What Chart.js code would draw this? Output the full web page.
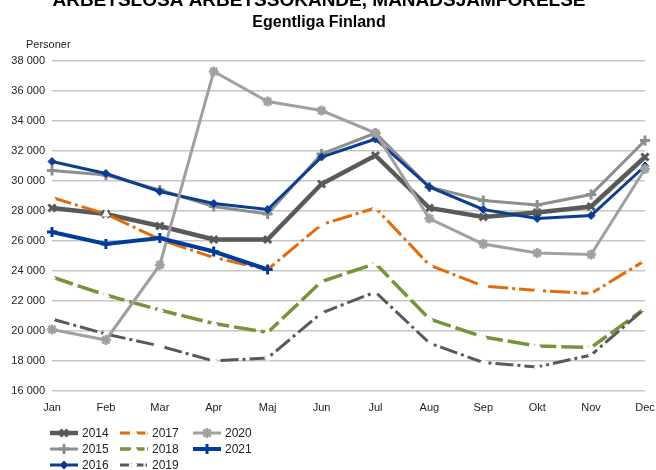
<!DOCTYPE html>
<html>
<head>
<meta charset="utf-8">
<script src="https://cdn.jsdelivr.net/npm/chart.js@4/dist/chart.umd.min.js"></script>
<style>
  body { margin: 0; background: #fff; }
  canvas { display: block; }
</style>
</head>
<body>
<canvas id="chart" width="656" height="470"></canvas>
<script>
const months = ["Jan", "Feb", "Mar", "Apr", "Maj", "Jun", "Jul", "Aug", "Sep", "Okt", "Nov", "Dec"];

const y2014 = [28200, 27800, 27000, 26100, 26100, 29800, 31700, 28200, 27600, 27900, 28300, 31600];
const y2015 = [30700, 30400, 29400, 28300, 27800, 31800, 33200, 29600, 28700, 28400, 29100, 32700];
const y2016 = [31300, 30500, 29300, 28500, 28100, 31600, 32800, 29600, 28100, 27500, 27700, 31000];
const y2017 = [28900, 27800, 26100, 24900, 24100, 27100, 28200, 24400, 23000, 22700, 22500, 24700];
const y2018 = [23600, 22400, 21400, 20500, 19900, 23300, 24500, 20800, 19600, 19000, 18900, 21500];
const y2019 = [20800, 19800, 19000, 18000, 18200, 21200, 22600, 19200, 17900, 17600, 18400, 21500];
const y2020 = [20100, 19400, 24400, 37300, 35300, 34700, 33200, 27500, 25800, 25200, 25100, 30800];
const y2021 = [26600, 25800, 26200, 25300, 24100];

const yTicks = [16000, 18000, 20000, 22000, 24000, 26000, 28000, 30000, 32000, 34000, 36000, 38000];

const mainTitle = "ARBETSLÖSA ARBETSSÖKANDE, MÅNADSJÄMFÖRELSE";
const subTitle = "Egentliga Finland";
const unitLabel = "Personer";

// legend layout: column-major like the original
const legendOrder = [["2014", "2015", "2016"], ["2017", "2018", "2019"], ["2020", "2021"]];

const FONT = "'Liberation Sans', Arial, sans-serif";

function series(label, data, color, width, style, radius, opts) {
  return Object.assign({
    label: label,
    data: data,
    borderColor: color,
    backgroundColor: color,
    borderWidth: width,
    pointStyle: style,
    pointRadius: radius,
    pointBorderColor: color,
    pointBackgroundColor: color,
    pointBorderWidth: 3,
    tension: 0,
    fill: false
  }, opts || {});
}

const datasets = [
  series("2014", y2014, "#595959", 4.5, "crossRot", 5, { order: 7 }),
  series("2015", y2015, "#8e8e8e", 3, "cross", 5, { order: 6 }),
  series("2016", y2016, "#0b3d91", 3, "rectRot", 4, { order: 5, pointBorderWidth: 1 }),
  series("2017", y2017, "#e26b0a", 3, "triangle", 4,
    { order: 4, borderDash: [20, 4, 3, 4], pointBackgroundColor: "#fff", pointBorderColor: "#fff", pointBorderWidth: 1 }),
  series("2018", y2018, "#77933c", 3.5, "triangle", 4,
    { order: 3, borderDash: [22, 5], pointBackgroundColor: "#fff", pointBorderColor: "#fff", pointBorderWidth: 1 }),
  series("2019", y2019, "#595959", 3, "rectRot", 3,
    { order: 2, borderDash: [18, 4, 3, 4], pointBackgroundColor: "#fff", pointBorderColor: "#fff", pointBorderWidth: 1 }),
  series("2020", y2020, "#a0a0a0", 3, "star", 5, { order: 1, pointBorderWidth: 2.5 }),
  series("2021", y2021, "#003c99", 4, "cross", 5, { order: 0 })
];

// titles, unit label and legend drawn by hand
const decorations = {
  id: "decorations",
  afterDraw(chart) {
    const ctx = chart.ctx;
    ctx.save();
    ctx.fillStyle = "#000";
    ctx.textAlign = "center";
    ctx.textBaseline = "alphabetic";
    ctx.font = "bold 19px " + FONT;
    ctx.fillText(mainTitle, 319, 6);
    ctx.font = "bold 16px " + FONT;
    ctx.fillText(subTitle, 319, 27);
    ctx.textAlign = "left";
    ctx.font = "11px " + FONT;
    ctx.fillStyle = "#222";
    ctx.fillText(unitLabel, 26, 48);

    const colX = [50, 120, 193];
    const rowY = [433, 449, 465];
    legendOrder.forEach((col, ci) => {
      col.forEach((label, ri) => {
        const ds = datasets.find(d => d.label === label);
        const x0 = colX[ci], y = rowY[ri];
        ctx.save();
        ctx.strokeStyle = ds.borderColor;
        ctx.lineWidth = ds.borderWidth;
        ctx.setLineDash(ds.borderDash ? ds.borderDash.map(d => d * 0.5) : []);
        ctx.beginPath();
        ctx.moveTo(x0, y);
        ctx.lineTo(x0 + 28, y);
        ctx.stroke();
        ctx.setLineDash([]);
        ctx.fillStyle = ds.pointBackgroundColor;
        ctx.strokeStyle = ds.pointBorderColor;
        ctx.lineWidth = ds.pointBorderWidth;
        if (Chart.helpers && Chart.helpers.drawPoint) {
          Chart.helpers.drawPoint(ctx, { pointStyle: ds.pointStyle, radius: ds.pointRadius, borderWidth: ds.pointBorderWidth, rotation: 0 }, x0 + 14, y);
        }
        ctx.restore();
        ctx.fillStyle = "#222";
        ctx.font = "12px " + FONT;
        ctx.textAlign = "left";
        ctx.textBaseline = "middle";
        ctx.fillText(label, x0 + 32, y + 1);
      });
    });
    ctx.restore();
  }
};

new Chart(document.getElementById("chart"), {
  type: "line",
  data: { labels: months, datasets: datasets },
  plugins: [decorations],
  options: {
    responsive: false,
    animation: false,
    layout: { padding: { top: 61, right: 11, left: 0, bottom: 0 } },
    plugins: { legend: { display: false }, title: { display: false }, tooltip: { enabled: false } },
    scales: {
      x: {
        offset: false,
        grid: { display: false },
        border: { display: false },
        ticks: { color: "#222", font: { family: FONT, size: 11 }, padding: 2, maxRotation: 0, autoSkip: false },
        afterFit(s) { s.paddingLeft = 0; s.paddingRight = 0; s.height = 79; }
      },
      y: {
        min: 16000,
        max: 38000,
        afterBuildTicks(s) { s.ticks = yTicks.map(v => ({ value: v })); },
        grid: { color: "#c6c6c6", lineWidth: 1.5, drawTicks: false },
        border: { display: false },
        ticks: {
          color: "#222",
          font: { family: FONT, size: 11 },
          padding: 7,
          callback: v => String(v).replace(/\B(?=(\d{3})+(?!\d))/g, " ")
        },
        afterFit(s) { s.width = 52; s.paddingTop = 0; s.paddingBottom = 0; }
      }
    }
  }
});
</script>
</body>
</html>
